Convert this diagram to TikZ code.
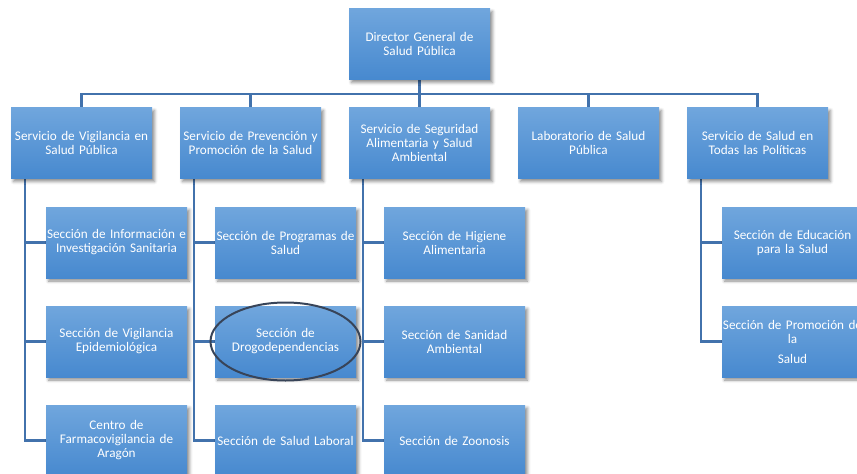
\documentclass[tikz,border=0pt]{standalone}
\usepackage{fontspec}
\setmainfont{Carlito}
\usetikzlibrary{shapes.geometric,shadows.blur,backgrounds}
\definecolor{boxtop}{RGB}{112,166,221}
\definecolor{boxbot}{RGB}{71,137,207}
\definecolor{conncol}{RGB}{66,114,172}
\definecolor{ellcol}{RGB}{56,68,88}
\tikzset{
  orgbox/.style={rectangle, minimum width=141pt, minimum height=71pt, inner sep=0.5pt,
    text width=140pt, align=center, text=white, font=\fontsize{13.2}{14}\selectfont,
    top color=boxtop, bottom color=boxbot, draw=none,
    blur shadow={shadow xshift=2.5pt, shadow yshift=-3pt, shadow blur radius=3pt, shadow opacity=45}},
  conn/.style={draw=conncol, line width=2.4pt},
  ring/.style={draw=ellcol, line width=2pt, ellipse, minimum width=150pt, minimum height=78pt, inner sep=0pt}
}
\begin{document}
\begin{tikzpicture}[x=1pt,y=-1pt]
\useasboundingbox (0,0) rectangle (857,474);
% top
\node[orgbox] (dg) at (419.5,44) {Director General de\\Salud Pública};
% level 2
\node[orgbox] (s1) at (81.5,143) {Servicio de Vigilancia en\\Salud Pública};
\node[orgbox] (s2) at (250.5,143) {Servicio de Prevención y\\Promoción de la Salud};
\node[orgbox] (s3) at (419.5,143) {Servicio de Seguridad\\Alimentaria y Salud\\Ambiental};
\node[orgbox] (s4) at (588.5,143) {Laboratorio de Salud\\Pública};
\node[orgbox] (s5) at (757.5,143) {Servicio de Salud en\\Todas las Políticas};
% level 3 col 1
\node[orgbox] (a1) at (116.5,242.5) {Sección de Información e\\Investigación Sanitaria};
\node[orgbox] (a2) at (116.5,341.5) {Sección de Vigilancia\\Epidemiológica};
\node[orgbox] (a3) at (116.5,440.5) {Centro de\\Farmacovigilancia de\\Aragón};
% col 2
\node[orgbox] (b1) at (285.5,242.5) {Sección de Programas de\\Salud};
\node[orgbox] (b2) at (285.5,341.5) {Sección de\\Drogodependencias};
\node[orgbox] (b3) at (285.5,440.5) {Sección de Salud Laboral};
% col 3
\node[orgbox] (c1) at (454.5,242.5) {Sección de Higiene\\Alimentaria};
\node[orgbox] (c2) at (454.5,341.5) {Sección de Sanidad\\Ambiental};
\node[orgbox] (c3) at (454.5,440.5) {Sección de Zoonosis};
% col 5
\node[orgbox] (e1) at (792.5,242.5) {Sección de Educación\\para la Salud};
\node[orgbox] (e2) at (792.5,341.5) {Sección de Promoción de\\la\\[6pt]Salud};
% ellipse highlight
\node[ring] (ell) at (b2.center) {};
% connectors
\begin{scope}[on background layer]
  \coordinate (bus) at (0,94);
  \draw[conn] (dg.south) -- (dg.south |- bus);
  \draw[conn] (s1.north) |- (bus -| s5.north) -- (s5.north);
  \draw[conn] (s2.north) -- (s2.north |- bus);
  \draw[conn] (s3.north) -- (s3.north |- bus);
  \draw[conn] (s4.north) -- (s4.north |- bus);
  \coordinate (r1) at ([xshift=14pt]s1.south west);
  \coordinate (r2) at ([xshift=14pt]s2.south west);
  \coordinate (r3) at ([xshift=14pt]s3.south west);
  \coordinate (r5) at ([xshift=14pt]s5.south west);
  \draw[conn] (r1) |- (a3.west);
  \draw[conn] (r1 |- a1.west) -- (a1.west);
  \draw[conn] (r1 |- a2.west) -- (a2.west);
  \draw[conn] (r2) |- (b3.west);
  \draw[conn] (r2 |- b1.west) -- (b1.west);
  \draw[conn] (r2 |- b2.west) -- (b2.west);
  \draw[conn] (r3) |- (c3.west);
  \draw[conn] (r3 |- c1.west) -- (c1.west);
  \draw[conn] (r3 |- c2.west) -- (c2.west);
  \draw[conn] (r5) |- (e2.west);
  \draw[conn] (r5 |- e1.west) -- (e1.west);
\end{scope}
\end{tikzpicture}
\end{document}
